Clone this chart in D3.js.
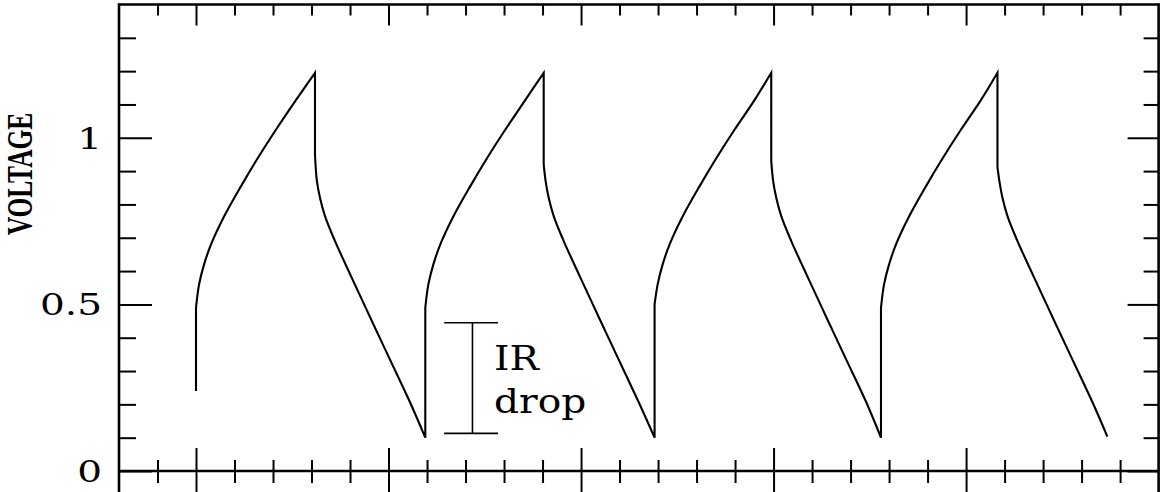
<!DOCTYPE html>
<html>
<head>
<meta charset="utf-8">
<script src="https://cdn.jsdelivr.net/npm/d3@7"></script>
<style>
    html, body { margin: 0; padding: 0; background: #fff; }
    svg { display: block; }
</style>
</head>
<body>
<svg id="chart"></svg>
<script>
// time along the x axis (no labels on it), voltage along y
const time = [
    0, 0, 0.016, 0.042, 0.078, 0.145, 0.234, 0.322, 0.415, 0.519, 0.618,
    0.618, 0.628, 0.644, 0.670, 0.722, 0.805, 0.903, 1.007, 1.111, 1.191,
    1.191, 1.207, 1.233, 1.269, 1.336, 1.425, 1.513, 1.606, 1.710, 1.806,
    1.806, 1.816, 1.832, 1.858, 1.910, 1.993, 2.091, 2.195, 2.299, 2.382,
    2.382, 2.398, 2.424, 2.460, 2.527, 2.616, 2.704, 2.797, 2.901, 2.988,
    2.988, 2.998, 3.014, 3.040, 3.092, 3.175, 3.273, 3.377, 3.481, 3.558,
    3.558, 3.574, 3.600, 3.636, 3.703, 3.792, 3.880, 3.973, 4.077, 4.163,
    4.163, 4.173, 4.189, 4.215, 4.267, 4.350, 4.448, 4.552, 4.656, 4.734
];
const voltage = [
    0.24, 0.49, 0.56, 0.62, 0.68, 0.763, 0.855, 0.94, 1.024, 1.113, 1.195,
    0.95, 0.87, 0.82, 0.765, 0.69, 0.585, 0.463, 0.335, 0.207, 0.10,
    0.49, 0.56, 0.62, 0.68, 0.763, 0.855, 0.94, 1.024, 1.113, 1.195,
    0.92, 0.87, 0.82, 0.765, 0.69, 0.585, 0.463, 0.335, 0.207, 0.10,
    0.50, 0.56, 0.62, 0.68, 0.763, 0.855, 0.94, 1.024, 1.113, 1.195,
    0.93, 0.87, 0.82, 0.765, 0.69, 0.585, 0.463, 0.335, 0.207, 0.10,
    0.49, 0.56, 0.62, 0.68, 0.763, 0.855, 0.94, 1.024, 1.113, 1.195,
    0.913, 0.87, 0.82, 0.765, 0.69, 0.585, 0.463, 0.335, 0.207, 0.103
];

const yMajorTicks = [0, 0.5, 1];
const yTickLabels = ["0", "0.5", "1"];
const yMinorTicks = [0.1, 0.2, 0.3, 0.4, 0.6, 0.7, 0.8, 0.9, 1.1, 1.2, 1.3];
const xMajorTicks = [0, 1, 2, 3, 4];
const xMinorTicks = [-0.2, 0.2, 0.4, 0.6, 0.8, 1.2, 1.4, 1.6, 1.8, 2.2, 2.4, 2.6, 2.8,
    3.2, 3.4, 3.6, 3.8, 4.2, 4.4, 4.6, 4.8];

// IR drop marker: x position, bracket ends, bottom / top voltage
const irDropX = [1.436];
const irDropCap = [1.289, 1.569];
const irDropV = [0.113, 0.445];
const irDropText = ["IR", "drop"];

const width = 1164;
const height = 492;

const svg = d3.select("#chart")
    .attr("width", width)
    .attr("height", height);

const x = d3.scaleLinear().domain([-0.4, 5.0]).range([119, 1158.6]);
const y = d3.scaleLinear().domain([0, 1.4]).range([471, 4.5]);

const serif = "'DejaVu Serif', serif";

function tickStyle(g) {
    g.select(".domain").remove();
    g.selectAll("line").attr("stroke", "#000").attr("stroke-width", 2);
}

// left axis ticks (inside)
svg.append("g")
    .attr("transform", `translate(${x(-0.4)},0)`)
    .call(d3.axisLeft(y).tickValues(yMinorTicks).tickSize(-17).tickFormat(""))
    .call(tickStyle);

svg.append("g")
    .attr("transform", `translate(${x(-0.4)},0)`)
    .call(d3.axisLeft(y).tickValues(yMajorTicks).tickSize(-33).tickFormat(""))
    .call(tickStyle);

// right axis ticks (inside)
svg.append("g")
    .attr("transform", `translate(${x(5.0)},0)`)
    .call(d3.axisRight(y).tickValues(yMinorTicks).tickSize(-15).tickFormat(""))
    .call(tickStyle);

svg.append("g")
    .attr("transform", `translate(${x(5.0)},0)`)
    .call(d3.axisRight(y).tickValues(yMajorTicks).tickSize(-31).tickFormat(""))
    .call(tickStyle);

// bottom ticks cross the axis line
svg.append("g")
    .attr("transform", `translate(0,${y(0)})`)
    .call(d3.axisBottom(x).tickValues(xMinorTicks).tickFormat(""))
    .call(tickStyle)
    .call(g => g.selectAll("line").attr("y1", -11).attr("y2", 12));

svg.append("g")
    .attr("transform", `translate(0,${y(0)})`)
    .call(d3.axisBottom(x).tickValues(xMajorTicks).tickFormat(""))
    .call(tickStyle)
    .call(g => g.selectAll("line").attr("y1", -23).attr("y2", 25));

// top ticks (inside)
svg.append("g")
    .attr("transform", `translate(0,${y(1.4)})`)
    .call(d3.axisTop(x).tickValues(xMinorTicks).tickSize(-11).tickFormat(""))
    .call(tickStyle);

svg.append("g")
    .attr("transform", `translate(0,${y(1.4)})`)
    .call(d3.axisTop(x).tickValues(xMajorTicks).tickSize(-21).tickFormat(""))
    .call(tickStyle);

// frame
const frame = svg.append("g")
    .attr("stroke", "#000")
    .attr("stroke-width", 2.6)
    .attr("fill", "none");

frame.append("line")
    .attr("x1", x(-0.4)).attr("x2", x(-0.4))
    .attr("y1", y(1.4) - 1).attr("y2", height);
frame.append("line")
    .attr("x1", x(5.0)).attr("x2", x(5.0))
    .attr("y1", y(1.4) - 1).attr("y2", height);
frame.append("line")
    .attr("x1", x(-0.4) - 1).attr("x2", x(5.0) + 1)
    .attr("y1", y(1.4)).attr("y2", y(1.4));
frame.append("line")
    .attr("x1", x(-0.4)).attr("x2", x(5.0))
    .attr("y1", y(0)).attr("y2", y(0));

// y tick labels, stretched sideways like the original
yMajorTicks.forEach((v, i) => {
    svg.append("text")
        .attr("transform", `translate(102,${y(v) + 11}) scale(1.3,1)`)
        .attr("text-anchor", "end")
        .style("font-family", serif)
        .style("font-size", "30px")
        .attr("fill", "#000")
        .text(yTickLabels[i]);
});

svg.append("text")
    .attr("transform", `translate(32,174) rotate(-90) scale(1,1.42)`)
    .attr("text-anchor", "middle")
    .style("font-family", "'Liberation Serif', 'Times New Roman', serif")
    .style("font-weight", "bold")
    .style("font-size", "25.5px")
    .attr("fill", "#000")
    .text("VOLTAGE");

// voltage trace: smooth pieces joined by the vertical jumps
const points = time.map((t, i) => ({ t: t, v: voltage[i] }));
const pieces = [];
let current = [];
points.forEach((p, i) => {
    if (i > 0 && p.t === points[i - 1].t) {
        pieces.push(current);
        current = [];
    }
    current.push(p);
});
pieces.push(current);

const line = d3.line()
    .x(d => x(d.t))
    .y(d => y(d.v))
    .curve(d3.curveCatmullRom.alpha(0.5));

const pathD = pieces
    .map((p, i) => {
        const d = line(p);
        return i === 0 ? d : d.replace(/^M/, "L");
    })
    .join("");

svg.append("path")
    .attr("d", pathD)
    .attr("fill", "none")
    .attr("stroke", "#000")
    .attr("stroke-width", 2.1)
    .attr("stroke-linejoin", "miter");

// IR drop marker
const ir = svg.append("g")
    .attr("stroke", "#000")
    .attr("stroke-width", 1.6);

ir.append("line")
    .attr("x1", x(irDropX[0])).attr("x2", x(irDropX[0]))
    .attr("y1", y(irDropV[0])).attr("y2", y(irDropV[1]));

irDropV.forEach(v => {
    ir.append("line")
        .attr("x1", x(irDropCap[0])).attr("x2", x(irDropCap[1]))
        .attr("y1", y(v)).attr("y2", y(v));
});

irDropText.forEach((s, i) => {
    svg.append("text")
        .attr("transform", `translate(${x(irDropCap[1]) - 4},${370 + i * 43}) scale(1.15,1)`)
        .style("font-family", serif)
        .style("font-size", "34px")
        .attr("fill", "#000")
        .text(s);
});
</script>
</body>
</html>
